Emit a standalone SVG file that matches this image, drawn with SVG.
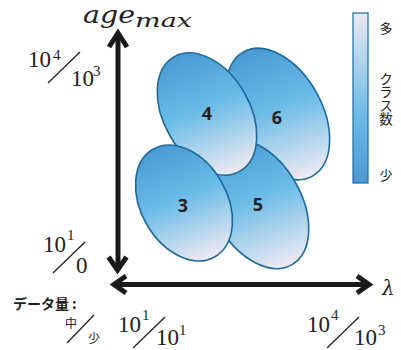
<svg xmlns="http://www.w3.org/2000/svg" width="401" height="350" viewBox="0 0 401 350">
<defs>
<linearGradient id="eg" x1="0.5" y1="0" x2="0.4" y2="1">
<stop offset="0" stop-color="#4a9ad5"/>
<stop offset="0.45" stop-color="#6bbce8"/>
<stop offset="1" stop-color="#f1ebf2"/>
</linearGradient>
<linearGradient id="lg" x1="0" y1="0" x2="0" y2="1">
<stop offset="0" stop-color="#ece8f1"/>
<stop offset="0.6" stop-color="#6cbbe6"/>
<stop offset="1" stop-color="#4b98d3"/>
</linearGradient>
<style>
.el{fill:url(#eg);stroke:#1d6a9b;stroke-width:1.6}
.lb{font-family:"Open Sans","Noto Sans",sans-serif;font-weight:bold;font-size:18px;fill:#222;text-anchor:middle}
.ax{fill:none;stroke:#1a1a1a;stroke-width:5}
.ah{fill:none;stroke:#1a1a1a;stroke-width:5;stroke-linejoin:miter;stroke-miterlimit:10}
.num{font-family:"Liberation Serif",serif;font-size:23px;fill:#222}
.sup{font-family:"Liberation Serif",serif;font-size:15px;fill:#222}
.sl{stroke:#222;stroke-width:1.3}
.math{font-family:"DejaVu Serif","Liberation Serif",serif;font-style:italic;fill:#222}
.jp{font-family:"Noto Sans CJK JP",sans-serif;fill:#222}
</style>
</defs>

<g id="connectors">
<line class="ax" x1="118" y1="35" x2="118" y2="268"/>
<polyline class="ah" points="109,47 118,33 127,47"/>
<polyline class="ah" points="108.5,257 117.5,270 126.5,257"/>
<line class="ax" x1="116" y1="284.5" x2="368" y2="284.5"/>
<polyline class="ah" points="126,276 114,284.5 126,293"/>
<polyline class="ah" points="357,276 369,284.5 357,293"/>
</g>

<g id="node-6">
<ellipse class="el" cx="0" cy="0" rx="44" ry="71" transform="translate(278,114) rotate(-29)"/>
<text class="lb" x="277" y="124">6</text>
</g>
<g id="node-5">
<ellipse class="el" cx="0" cy="0" rx="44" ry="70" transform="translate(257,204) rotate(-30)"/>
<text class="lb" x="258" y="211">5</text>
</g>
<g id="node-4">
<ellipse class="el" cx="0" cy="0" rx="43" ry="66" transform="translate(207,114) rotate(-30)"/>
<text class="lb" x="207" y="120">4</text>
</g>
<g id="node-3">
<ellipse class="el" cx="0" cy="0" rx="43" ry="62" transform="translate(184,203) rotate(-30)"/>
<text class="lb" x="183" y="212">3</text>
</g>

<g id="axis-labels">
<text class="math" x="83" y="23" font-size="24" textLength="52" lengthAdjust="spacingAndGlyphs">age</text>
<text class="math" x="135" y="27" font-size="19" textLength="57" lengthAdjust="spacingAndGlyphs">max</text>
<text class="math" x="382" y="295" font-size="20">λ</text>
</g>

<g id="scale-top-left">
<text class="num" x="28" y="67">10</text><text class="sup" x="53" y="60">4</text>
<line class="sl" x1="48" y1="83" x2="80" y2="52"/>
<text class="num" x="71" y="86">10</text><text class="sup" x="93" y="76">3</text>
</g>
<g id="scale-bottom-left">
<text class="num" x="43" y="252">10</text><text class="sup" x="67" y="240">1</text>
<line class="sl" x1="53" y1="273" x2="85" y2="242"/>
<text class="num" x="76" y="273">0</text>
</g>
<g id="scale-bottom">
<text class="num" x="118" y="332">10</text><text class="sup" x="142" y="320">1</text>
<line class="sl" x1="133" y1="348" x2="165" y2="317"/>
<text class="num" x="156" y="345">10</text><text class="sup" x="179" y="335">1</text>
</g>
<g id="scale-bottom-right">
<text class="num" x="307" y="332">10</text><text class="sup" x="331" y="320">4</text>
<line class="sl" x1="327" y1="348" x2="359" y2="317"/>
<text class="num" x="354" y="345">10</text><text class="sup" x="378" y="335">3</text>
</g>

<g id="data-amount">
<text class="jp" x="13" y="309" font-size="14" font-weight="bold">データ量<tspan dx="3">:</tspan></text>
<text class="jp" x="65" y="328" font-size="12">中</text>
<line class="sl" x1="67" y1="343" x2="94" y2="315"/>
<text class="jp" x="88" y="343" font-size="12">少</text>
</g>

<g id="legend">
<rect x="353" y="13" width="15" height="170" fill="url(#lg)" stroke="#2a74a6" stroke-width="1.3"/>
<text class="jp" x="386" y="33" font-size="13" text-anchor="middle">多</text>
<text class="jp" x="386" y="72" font-size="13.5" style="writing-mode:vertical-rl">クラス数</text>
<text class="jp" x="386" y="180" font-size="13" text-anchor="middle">少</text>
</g>
</svg>
